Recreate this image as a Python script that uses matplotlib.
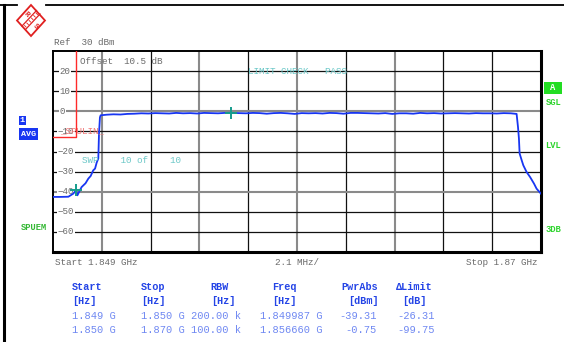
"""
Spurious emission sweep, R&S style hardcopy
"""

import numpy as np
import matplotlib
matplotlib.use('Agg')
import matplotlib.pyplot as plt
from matplotlib.patches import Polygon, Rectangle

MONO = ['Liberation Mono', 'DejaVu Sans Mono']

# sweep settings
start_mhz = 1849.0
stop_mhz = 1870.0
span_div_mhz = 2.1
ref_dbm = 30
level_ticks = [20, 10, 0, -10, -20, -30, -40, -50, -60]

# measured trace (MHz, dBm)
trace_mhz = [1849.00, 1849.30, 1849.66, 1849.87, 1849.987, 1850.05, 1850.23, 1850.40,
             1850.52, 1850.62, 1850.73, 1850.81, 1850.88, 1850.95, 1850.98, 1851.02,
             1851.05, 1851.30, 1851.60, 1851.90, 1852.20, 1852.50, 1852.80, 1853.10,
             1853.40, 1853.70, 1854.00, 1854.30, 1854.60, 1854.90, 1855.20, 1855.50,
             1855.80, 1856.10, 1856.40, 1856.66, 1857.00, 1857.30, 1857.60, 1857.90,
             1858.20, 1858.50, 1858.80, 1859.10, 1859.40, 1859.70, 1860.00, 1860.30,
             1860.60, 1860.90, 1861.20, 1861.50, 1861.80, 1862.10, 1862.40, 1862.70,
             1863.00, 1863.30, 1863.60, 1863.90, 1864.20, 1864.50, 1864.80, 1865.10,
             1865.40, 1865.70, 1866.00, 1866.30, 1866.60, 1866.90, 1867.20, 1867.50,
             1867.80, 1868.10, 1868.40, 1868.70, 1868.95, 1869.01, 1869.05, 1869.08,
             1869.17, 1869.24, 1869.38, 1869.53, 1869.70, 1869.81, 1870.00]
trace_dbm = [-42.6, -42.6, -42.5, -41.0, -39.31, -41.8, -37.7, -35.8,
             -33.5, -32.2, -29.4, -28.5, -25.5, -23.5, -11.0, -3.0,
             -2.0, -1.7, -1.5, -1.6, -1.3, -1.2, -1.0, -1.1,
             -0.9, -1.0, -1.1, -0.8, -1.0, -0.9, -1.1, -0.8,
             -0.9, -1.0, -0.8, -0.75, -0.9, -1.0, -0.8, -0.9,
             -1.2, -0.9, -0.8, -1.0, -1.3, -0.9, -1.0, -0.9,
             -1.1, -0.8, -0.9, -1.2, -0.8, -0.8, -0.9, -1.0,
             -1.1, -0.9, -1.3, -1.0, -1.0, -1.2, -0.8, -1.0,
             -0.9, -1.1, -1.0, -0.9, -1.0, -1.1, -0.9, -1.0,
             -1.0, -1.1, -0.9, -1.0, -1.3, -7.8, -13.5, -21.0,
             -24.4, -26.9, -30.2, -32.7, -36.0, -38.5, -41.0]

# limit line SPULIN
limit_mhz = [1849.0, 1850.0, 1850.0]
limit_dbm = [-13, -13, 99]

# sweep ranges and peak results
range_start = [1.849, 1.850]
range_stop = [1.850, 1.870]
range_rbw_k = [200.00, 100.00]
range_limit = [-13, 99]
peak_mhz = [1849.987, 1856.660]
peak_dbm = [-39.31, -0.75]

GREY = '#6a6a6a'
BLUE = '#1836f2'
TEAL = '#6cc8c8'
GREEN = '#2ed42e'

fig = plt.figure(figsize=(5.64, 3.42), dpi=100)
fig.patch.set_facecolor('white')

# --- diagram area ---
ax = fig.add_axes([53 / 564, 90 / 342, 488 / 564, 201 / 342])
ax.set_xlim(start_mhz, stop_mhz)
ax.set_ylim(ref_dbm - 100, ref_dbm)
ax.set_xticks([])
ax.set_yticks([])
for side in ['top', 'left']:
    ax.spines[side].set_linewidth(1.4)
for side in ['bottom', 'right']:
    ax.spines[side].set_linewidth(2.2)

for i in range(1, 10):
    f = start_mhz + i * span_div_mhz
    if i in (1, 3, 5, 7):
        ax.axvline(f, color='#8a8a8a', lw=1.5, zorder=1)
    else:
        ax.axvline(f, color='#111111', lw=0.9, zorder=1)
for lv in level_ticks:
    if lv in (0, -40):
        ax.axhline(lv, color='#8a8a8a', lw=1.5, zorder=1)
    else:
        ax.axhline(lv, color='#111111', lw=0.9, zorder=1)

# level labels sit on the grid lines with a white background
ytr = ax.get_yaxis_transform()
for lv in level_ticks:
    txt = str(lv).replace('-', '\u2212')
    x0 = (57.5 - 53) / 488 if lv < 0 else (59.5 - 53) / 488
    ax.text(x0, lv, txt, transform=ytr, ha='left', va='center', fontsize=6.6,
            family=MONO, color=GREY, zorder=3,
            bbox=dict(fc='white', ec='none', pad=0.4))

ax.plot(limit_mhz, limit_dbm, color='#ff2a2a', lw=1.0, zorder=4)
ax.plot(trace_mhz, trace_dbm, color=BLUE, lw=1.3, zorder=5)
ax.plot(peak_mhz, peak_dbm, ls='none', marker='+', ms=8, mew=1.4,
        color='#169c8c', zorder=6)

# --- annotations in pixel coordinates ---
ov = fig.add_axes([0, 0, 1, 1])
ov.set_xlim(0, 564)
ov.set_ylim(342, 0)
ov.axis('off')

# outer frame
ov.plot([0, 17], [5, 5], color='black', lw=1.3)
ov.plot([46, 564], [5, 5], color='black', lw=1.3)
ov.plot([3.5, 3.5], [5, 342], color='black', lw=2.2)

# logo
ov.add_patch(Polygon([[31, 5], [45, 20.5], [31, 36], [17, 20.5]], closed=True,
                     fc='white', ec='#e02020', lw=1.3))
ov.plot([22, 36.5], [26, 10.5], color='#e02020', lw=0.9)
ov.plot([25.5, 40], [29.5, 14], color='#e02020', lw=0.9)
for k in range(6):
    xs = 24.5 + k * 2.3
    ys = 25.5 - k * 2.5
    ov.plot([xs, xs + 1.6], [ys, ys + 1.6], color='#e02020', lw=0.6)
ov.text(26, 15, 'R', fontsize=5.5, fontweight='bold', color='#e02020',
        ha='center', va='center', rotation=-45, family=MONO)
ov.text(35.5, 27, 'S', fontsize=5.5, fontweight='bold', color='#e02020',
        ha='center', va='center', rotation=-45, family=MONO)

def txt(x, y, s, color=GREY, size=6.7, **kw):
    ov.text(x, y, s, fontsize=size, family=MONO, color=color, va='center', **kw)

txt(54, 42.5, 'Ref  30 dBm')
txt(80, 61, 'Offset  10.5 dB')
txt(248, 72, 'LIMIT CHECK   PASS', color=TEAL)
txt(81.5, 160.5, 'SWP    10 of    10', color=TEAL)
txt(60, 130.5, '_SPULIN_', color='#f07878')

# left side boxes
ov.add_patch(Rectangle((18.5, 115.5), 7, 9.5, fc=BLUE, ec='none'))
ov.text(22, 120.5, '1', fontsize=6, family=MONO, color='white', fontweight='bold',
        ha='center', va='center')
ov.add_patch(Rectangle((18.5, 128), 19.5, 12, fc=BLUE, ec='none'))
ov.text(28.2, 134, 'AVG', fontsize=6, family=MONO, color='white', fontweight='bold',
        ha='center', va='center')
txt(20.5, 227.5, 'SPUEM', color='#34b834', fontweight='bold', size=6.3)

# right side status
ov.add_patch(Rectangle((544, 81.5), 17.5, 12.5, fc='#22dd22', ec='none'))
ov.text(552.7, 88, 'A', fontsize=6.3, family=MONO, color='white', fontweight='bold',
        ha='center', va='center')
for y, s in [(102.5, 'SGL'), (146, 'LVL'), (229.5, '3DB')]:
    txt(545.5, y, s, color=GREEN, fontweight='bold', size=6.3)

# axis captions
txt(55, 262.5, 'Start %.3f GHz' % (start_mhz / 1000))
txt(275, 262.5, '%.1f MHz/' % span_div_mhz)
txt(538, 262.5, 'Stop %.2f GHz' % (stop_mhz / 1000), ha='right')

# result table
HEAD = '#2444e6'
VAL = '#6f88f2'
for x, s in [(72, 'Start'), (141, 'Stop'), (210, 'RBW'), (272, 'Freq'),
             (341, 'PwrAbs'), (396, '\u0394Limit')]:
    txt(x, 286.5, s, color=HEAD, size=7.3, fontweight='bold')
for x, s in [(72, '[Hz]'), (141, '[Hz]'), (211, '[Hz]'), (272, '[Hz]'),
             (348, '[dBm]'), (402, '[dB]')]:
    txt(x, 301.5, s, color=HEAD, size=7.3, fontweight='bold')
for i, y in enumerate([315.7, 330.0]):
    txt(72, y, '%.3f G' % range_start[i], color=VAL, size=7.5)
    txt(141, y, '%.3f G' % range_stop[i], color=VAL, size=7.5)
    txt(191, y, '%.2f k' % range_rbw_k[i], color=VAL, size=7.5)
    txt(260, y, '%.6f G' % (peak_mhz[i] / 1000), color=VAL, size=7.5)
    txt(377, y, '%.2f' % peak_dbm[i], color=VAL, size=7.5, ha='right')
    txt(397, y, '%.2f' % (peak_dbm[i] - range_limit[i]), color=VAL, size=7.5)

fig.savefig('out.png', dpi=100)
